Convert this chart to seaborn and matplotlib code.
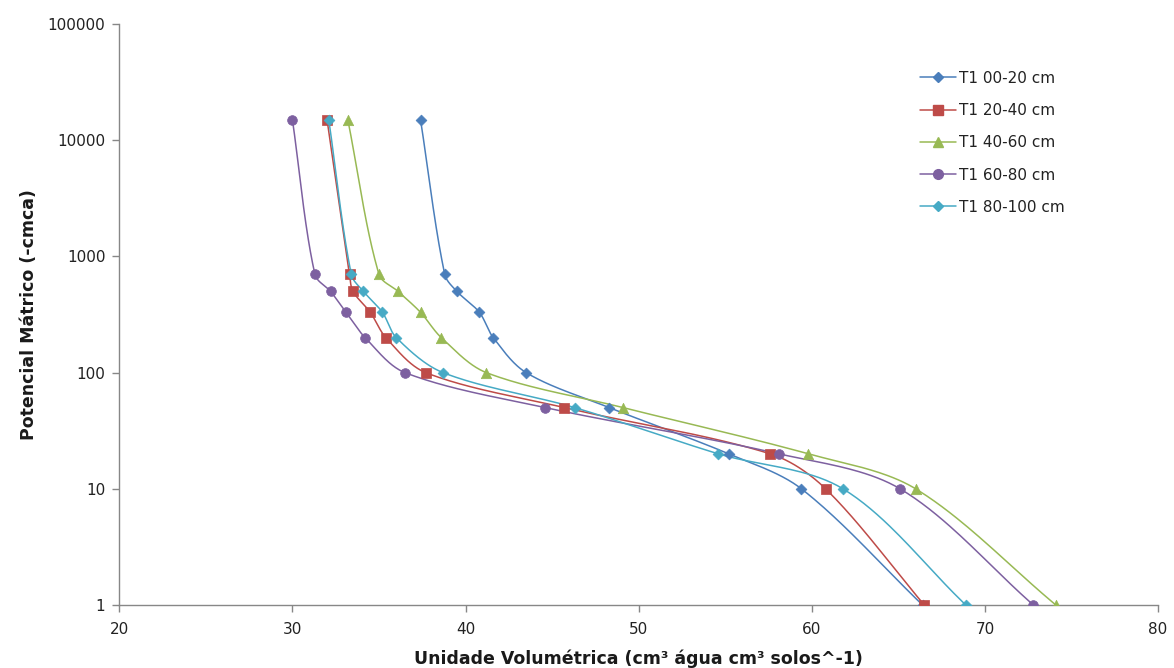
import numpy as np
import pandas as pd
import matplotlib
matplotlib.use("Agg")
import matplotlib.pyplot as plt
from matplotlib.lines import Line2D
from matplotlib.ticker import FixedLocator, FixedFormatter, NullLocator
import seaborn as sns

# ---- data ----
pressure = [15000, 700, 500, 330, 200, 100, 50, 20, 10, 1]
series_names = ["T1 00-20 cm", "T1 20-40 cm", "T1 40-60 cm", "T1 60-80 cm", "T1 80-100 cm"]
t1_00_20 = [37.4, 38.8, 39.5, 40.8, 41.6, 43.5, 48.3, 55.2, 59.4, 66.4]
t1_20_40 = [32.0, 33.3, 33.5, 34.5, 35.4, 37.7, 45.7, 57.6, 60.8, 66.5]
t1_40_60 = [33.2, 35.0, 36.1, 37.4, 38.6, 41.2, 49.1, 59.8, 66.0, 74.1]
t1_60_80 = [30.0, 31.3, 32.2, 33.1, 34.2, 36.5, 44.6, 58.1, 65.1, 72.8]
t1_80_100 = [32.1, 33.4, 34.1, 35.2, 36.0, 38.7, 46.3, 54.6, 61.8, 68.9]
x_ticks = [20, 30, 40, 50, 60, 70, 80]
y_ticks = [1, 10, 100, 1000, 10000, 100000]
y_tick_labels = ["1", "10", "100", "1000", "10000", "100000"]

colors = ["#4A7EBB", "#BE4B48", "#98B954", "#7D60A0", "#46AAC5"]
markers = ["D", "s", "^", "o", "D"]
msizes = [5.5, 7, 7.5, 7, 5.5]

all_values = [t1_00_20, t1_20_40, t1_40_60, t1_60_80, t1_80_100]

# ---- figure ----
sns.set_style("white")
plt.rcParams["font.family"] = ["DejaVu Sans"]

W, H = 1174, 668
fig = plt.figure(figsize=(W / 100, H / 100), dpi=100)
x0, x1, ytop, ybot = 119.3, 1158, 24, 605
ax = fig.add_axes([x0 / W, 1 - ybot / H, (x1 - x0) / W, (ybot - ytop) / H])
ax.set_xlim(20, 80)
ax.set_yscale("log")
ax.set_ylim(1, 100000)

axw, axh = (x1 - x0), (ybot - ytop)


def smooth(xs, ys, n=40, k=0.32):
    # Excel-like smoothed line: Bezier segments in screen space, tangent from
    # neighbours, handle length proportional to the segment length
    u = (np.asarray(xs) - 20) / 60 * axw
    v = np.log10(np.asarray(ys)) / 5 * axh
    P = np.column_stack([u, v])
    m = len(P)
    T = np.zeros_like(P)
    for i in range(m):
        a = P[max(i - 1, 0)]
        b = P[min(i + 1, m - 1)]
        d = b - a
        T[i] = d / np.hypot(*d)
    out = []
    t = np.linspace(0, 1, n)[:, None]
    for i in range(m - 1):
        p1, p2 = P[i], P[i + 1]
        L = np.hypot(*(p2 - p1))
        c1 = p1 + T[i] * L * k
        c2 = p2 - T[i + 1] * L * k
        seg = ((1 - t) ** 3) * p1 + 3 * ((1 - t) ** 2) * t * c1 + 3 * (1 - t) * t ** 2 * c2 + t ** 3 * p2
        out.append(seg if i == 0 else seg[1:])
    out = np.vstack(out)
    return out[:, 0] / axw * 60 + 20, 10 ** (out[:, 1] / axh * 5)


rows = []
pts = []
for name, vals in zip(series_names, all_values):
    sx, sy = smooth(vals, pressure)
    for k, (a, b) in enumerate(zip(sx, sy)):
        rows.append({"serie": name, "order": k, "x": a, "y": b})
    for a, b in zip(vals, pressure):
        pts.append({"serie": name, "x": a, "y": b})
curves = pd.DataFrame(rows)
points = pd.DataFrame(pts)

palette = dict(zip(series_names, colors))
sns.lineplot(data=curves, x="x", y="y", hue="serie", units="serie", estimator=None,
             sort=False, palette=palette, linewidth=1.1, legend=False, ax=ax)
for name, c, m, ms in zip(series_names, colors, markers, msizes):
    sub = points[points["serie"] == name]
    sns.scatterplot(data=sub, x="x", y="y", color=c, marker=m, s=ms ** 2,
                    edgecolor=c, linewidth=0.5, legend=False, ax=ax, zorder=5)

# ---- axes styling ----
spine_c = "#878787"
for s in ["top", "right"]:
    ax.spines[s].set_visible(False)
for s in ["left", "bottom"]:
    ax.spines[s].set_color(spine_c)
    ax.spines[s].set_linewidth(1.0)
ax.xaxis.set_major_locator(FixedLocator(x_ticks))
ax.set_xticklabels([str(v) for v in x_ticks])
ax.yaxis.set_major_locator(FixedLocator(y_ticks))
ax.yaxis.set_major_formatter(FixedFormatter(y_tick_labels))
ax.yaxis.set_minor_locator(NullLocator())
ax.tick_params(axis="both", which="major", direction="out", length=5, width=1,
               color=spine_c, labelsize=11, labelcolor="#222222", pad=5,
               bottom=True, left=True)
ax.tick_params(axis="x", pad=7)
ax.grid(False)

ax.set_xlabel("Unidade Volumétrica (cm³ água cm³ solos^-1)", fontsize=12.5,
              fontweight="bold", color="#1a1a1a", labelpad=9)
ax.set_ylabel("Potencial Mátrico (-cmca)", fontsize=12.5, fontweight="bold",
              color="#1a1a1a", labelpad=7)

handles = [Line2D([0], [0], color=c, marker=m, markersize=ms, linewidth=1.1,
                  markeredgecolor=c) for c, m, ms in zip(colors, markers, msizes)]
ax.legend(handles, series_names, loc="upper left", bbox_to_anchor=(906 / W, 1 - 57 / H),
          bbox_transform=fig.transFigure, frameon=False, fontsize=11,
          handlelength=2.4, handletextpad=0.2, labelspacing=1.13, labelcolor="#222222")

fig.savefig("out.png", dpi=100, facecolor="white")
